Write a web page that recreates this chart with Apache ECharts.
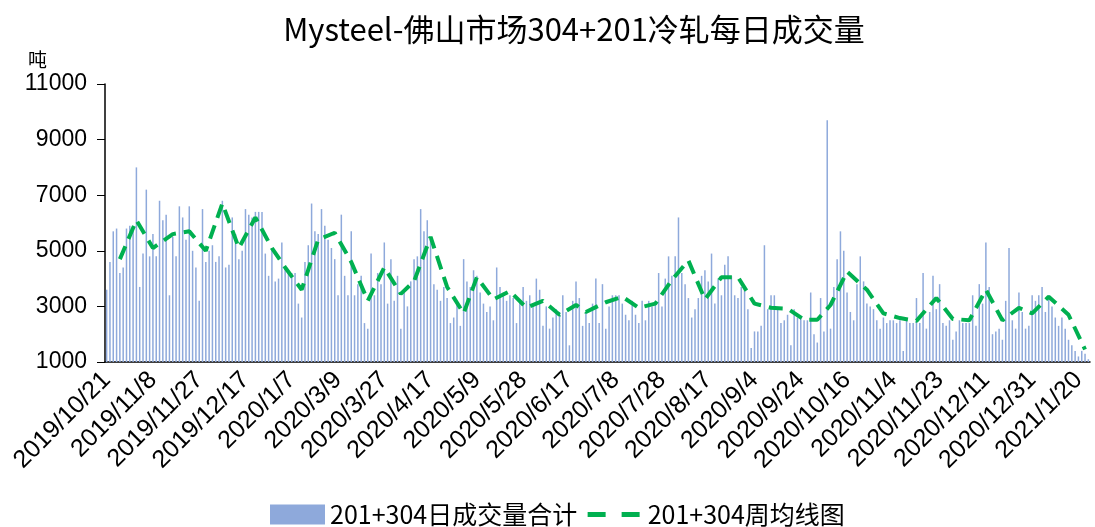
<!DOCTYPE html>
<html>
<head>
<meta charset="utf-8">
<title>Mysteel-佛山市场304+201冷轧每日成交量</title>
<script src="https://cdn.jsdelivr.net/npm/echarts@6/dist/echarts.min.js"></script>
<style>
  html, body { margin: 0; padding: 0; background: #fff; }
  #chart { width: 1095px; height: 527px; }
</style>
</head>
<body>
<div id="chart"></div>
<script>
// trading days: weekdays in range, minus holidays, plus weekend working days
const firstDay = '2019/10/21';
const lastDay = '2021/1/25';
const holidays = [
  ['2020/1/1', '2020/1/1'],
  ['2020/1/20', '2020/2/28'],
  ['2020/4/6', '2020/4/6'],
  ['2020/5/1', '2020/5/5'],
  ['2020/6/25', '2020/6/26'],
  ['2020/10/1', '2020/10/6'],
  ['2021/1/1', '2021/1/1']
];
const extraDays = ['2019/11/16', '2020/4/26', '2020/5/9', '2020/6/28', '2020/9/27',
  '2020/10/10', '2020/10/24', '2020/11/21', '2021/1/16'];

// 201+304 daily volume (tons)
const dailyVolume = [
  // 2019/10/21 -
  3600, 4600, 5700, 5800, 4200, 4400, 5800, 5900, 5900, 8000, 3700, 4900, 7200, 4800, 5600, 4800,
  6800, 6100, 6300, 3400, 5500, 4800, 6600, 6200, 5400, 6600, 5000, 4400, 3200, 6500, 4600, 5000,
  // 2019/12/6 -
  5200, 4600, 4800, 6800, 4400, 4500, 6200, 5600, 4700, 5000, 6500, 6300, 6200, 6400, 6400, 6400, 4900,
  4100, 5100, 3900, 4000, 5300, 4400, 4300, 4200, 4200, 3100, 2600, 4600, 5200, 6700, 5700, 5600, 6500,
  // 2020/3/5 -
  5900, 5400, 5100, 4700, 3400, 6300, 4100, 3400, 5700, 3400, 3800, 4100, 2400, 2200, 4900, 3400, 4200,
  3800, 5300, 3100, 4700, 3200, 4100, 2200, 3500, 3000, 3900, 4700, 4800, 6500, 5700, 6100, 5400,
  // 2020/4/20 -
  3800, 3600, 3200, 3700, 3300, 2400, 2600, 3100, 2300, 4700, 3900, 3700, 4300, 4100, 3500, 3100, 2800,
  3000, 2500, 4400, 3700, 3500, 3200, 3400, 3300, 2400, 3200, 3700, 3200, 3400, 3100, 4000, 3600, 2300,
  // 2020/6/8 -
  3000, 2200, 2600, 2900, 2800, 3400, 2800, 1600, 3200, 3900, 3300, 2300, 2800, 2400, 3100, 4000, 2400,
  3800, 2200, 3000, 3400, 3400, 3400, 3100, 2700, 2500, 3200, 2700, 2400, 3200, 2500, 3200, 3000, 3100,
  // 2020/7/24 -
  4200, 3000, 4000, 4800, 4100, 4800, 6200, 4200, 3800, 3300, 2600, 2900, 3300, 4100, 4300, 3900, 4900,
  3100, 4000, 3400, 4500, 4800, 4100, 3400, 3300, 3700, 3700, 2900, 1500, 2100, 2100, 2300, 5200,
  // 2020/9/8 -
  2900, 3400, 3400, 2900, 2400, 2500, 2700, 1600, 2900, 2600, 2600, 2500, 2500, 3500, 2000, 1700, 3300,
  2100, 9700, 2200, 3700, 4700, 5700, 5000, 3500, 2800, 2500, 3800, 4800, 3900, 3100, 3000, 2900, 2500,
  // 2020/10/29 -
  2200, 2600, 2400, 2500, 2500, 2400, 2500, 1400, 2500, 2400, 2400, 3300, 2400, 4200, 2200, 2800, 4100,
  2900, 3800, 2400, 2300, 2500, 1800, 2100, 2500, 2400, 2400, 2400, 3400, 2300, 3800, 3100, 5300, 3700,
  // 2020/12/14 -
  2000, 2100, 2200, 1800, 3200, 5100, 2500, 2200, 3500, 2800, 2200, 2300, 3400, 3200, 3400, 3700, 2800,
  3400, 3000, 2600, 2300, 2600, 2200, 1800, 1600, 1400, 1200, 1400, 1300, 1100
];

// weekly average, one value per week (placed on the last trading day of the week)
const weeklyAverage = [
  4700, 6100, 5100, 5600, 5700, 5000, 6700, 5100, 6200, 5100,
  4400, 3600, 5400, 5650, 4600, 3200, 4400, 3450, 3900, 5500,
  3700, 2750, 4050, 3250, 3550, 2950, 3200, 2700, 3050, 2800,
  3150, 3350, 2950, 3100, 3950, 4650, 3250, 4050, 4050, 3100,
  2950, 2920, 2520, 2520, 3050, 4250, 3600, 2750, 2580, 2480,
  3300, 2550, 2500, 3600, 2500, 2950, 2750, 3350, 2700, 1450
];

const barName = '201+304日成交量合计';
const lineName = '201+304周均线图';

function toDay(s) {
  const p = s.split('/').map(Number);
  return Math.round(Date.UTC(p[0], p[1] - 1, p[2]) / 86400000);
}
function fmt(n) {
  const d = new Date(n * 86400000);
  return d.getUTCFullYear() + '/' + (d.getUTCMonth() + 1) + '/' + d.getUTCDate();
}

const dayNums = [];
for (let n = toDay(firstDay); n <= toDay(lastDay); n++) {
  const wd = new Date(n * 86400000).getUTCDay();
  const off = holidays.some(h => n >= toDay(h[0]) && n <= toDay(h[1]));
  const extra = extraDays.some(e => toDay(e) === n);
  if ((wd >= 1 && wd <= 5 && !off) || extra) dayNums.push(n);
}
const dates = dayNums.map(fmt);

// last trading day of each week (a Sunday working day counts to the next week)
const weekEnds = [];
dayNums.forEach((n, i) => {
  const key = Math.floor((n + 4) / 7);
  const next = dayNums[i + 1];
  if (next === undefined || Math.floor((next + 4) / 7) !== key) weekEnds.push(i);
});
const weeklyLine = dates.map(() => null);
weeklyAverage.forEach((v, k) => { weeklyLine[weekEnds[k]] = v; });

const labelFont = 'Liberation Sans, Arial, sans-serif';

const chart = echarts.init(document.getElementById('chart'));
chart.setOption({
  animation: false,
  backgroundColor: '#fff',
  title: {
    text: 'Mysteel-佛山市场304+201冷轧每日成交量',
    left: 569,
    textAlign: 'center',
    top: 9,
    textStyle: {
      fontFamily: 'Noto Sans CJK SC',
      fontSize: 31,
      fontWeight: 'normal',
      color: '#000'
    }
  },
  legend: {
    left: 265,
    top: 497,
    itemWidth: 55,
    itemHeight: 20,
    itemGap: 8,
    textStyle: { fontFamily: 'Noto Sans CJK SC', fontSize: 25, color: '#000' },
    data: [
      { name: barName, icon: 'rect' },
      { name: lineName, itemStyle: { opacity: 0 }, lineStyle: { width: 5, type: [18, 16] } }
    ]
  },
  grid: { left: 105, right: 5, top: 84, bottom: 165 },
  xAxis: {
    type: 'category',
    data: dates,
    axisLine: { lineStyle: { color: '#000', width: 1.5 } },
    axisTick: { interval: 3, length: 8, lineStyle: { color: '#000' } },
    axisLabel: {
      interval: 13,
      rotate: 45,
      margin: 14,
      color: '#000',
      fontSize: 25,
      fontFamily: labelFont
    }
  },
  yAxis: {
    type: 'value',
    min: 1000,
    max: 11000,
    interval: 2000,
    name: '吨',
    nameGap: 15,
    nameTextStyle: {
      fontFamily: 'Noto Sans CJK SC',
      fontSize: 19,
      color: '#000',
      align: 'right',
      padding: [0, 58, 0, 0]
    },
    splitLine: { show: false },
    axisLine: { show: true, lineStyle: { color: '#000', width: 1.5 } },
    axisTick: { show: true, length: 8, lineStyle: { color: '#000' } },
    axisLabel: {
      margin: 18,
      color: '#000',
      fontSize: 23,
      fontFamily: labelFont,
      formatter: v => String(v)
    }
  },
  series: [
    {
      name: barName,
      type: 'bar',
      data: dailyVolume,
      barWidth: 1.5,
      itemStyle: { color: '#8EA9DB' }
    },
    {
      name: lineName,
      type: 'line',
      data: weeklyLine,
      connectNulls: true,
      symbol: 'none',
      lineStyle: { color: '#00B050', width: 4, type: [14, 8], cap: 'butt' },
      itemStyle: { color: '#00B050' },
      z: 3
    }
  ]
});
</script>
</body>
</html>
